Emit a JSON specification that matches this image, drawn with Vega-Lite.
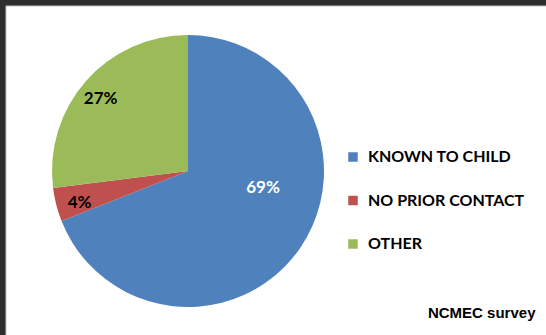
{
  "$schema": "https://vega.github.io/schema/vega-lite/v6.json",
  "width": 540,
  "height": 329,
  "autosize": "none",
  "padding": {"left": 6, "top": 6, "right": 0, "bottom": 0},
  "background": "#2e2e2e",
  "config": {
    "view": {"stroke": null},
    "legend": {
      "labelFont": "Lato", "labelFontSize": 16, "labelFontWeight": "bold", "labelColor": "black",
      "symbolType": "square", "symbolSize": 90, "symbolStrokeWidth": 0,
      "rowPadding": 27.5, "labelOffset": 7
    }
  },
  "title": {
    "text": "NCMEC survey",
    "orient": "bottom",
    "anchor": "end",
    "offset": -32,
    "dx": -13,
    "font": "Liberation Sans",
    "fontSize": 15,
    "fontWeight": "bold",
    "color": "black"
  },
  "data": {
    "values": [
      {"category": "KNOWN TO CHILD", "value": 0.69},
      {"category": "NO PRIOR CONTACT", "value": 0.04},
      {"category": "OTHER", "value": 0.27}
    ]
  },
  "layer": [
    {
      "data": {"values": [{"panel": "background"}]},
      "mark": {"type": "rect", "x": 0, "y": 0, "x2": {"expr": "width + 2"}, "y2": {"expr": "height + 2"}, "fill": "white", "stroke": "#c4c4c4", "strokeWidth": 1},
      "encoding": {}
    },
    {
      "mark": {"type": "arc", "outerRadius": 136, "x": 182, "y": 165},
      "encoding": {
        "theta": {"field": "value", "type": "quantitative", "stack": true},
        "order": {"field": "category", "sort": "ascending"},
        "color": {
          "field": "category", "type": "nominal",
          "scale": {"domain": ["KNOWN TO CHILD", "NO PRIOR CONTACT", "OTHER"], "range": ["#4f81bd", "#c0504d", "#9bbb59"]},
          "legend": {"title": null, "orient": "none", "legendX": 339, "legendY": 143}
        }
      }
    },
    {
      "mark": {"type": "text", "radius": 113, "thetaOffset": -0.035, "x": 182, "y": 165, "font": "Lato", "fontSize": 17, "fontWeight": "bold", "fill": "black"},
      "encoding": {
        "theta": {"field": "value", "type": "quantitative", "stack": true},
        "order": {"field": "category", "sort": "ascending"},
        "detail": {"field": "category"},
        "text": {"field": "value", "type": "quantitative", "format": ".0%"},
        "opacity": {"condition": {"test": "datum.category === 'KNOWN TO CHILD'", "value": 0}, "value": 1}
      }
    },
    {
      "mark": {"type": "text", "radius": 77, "thetaOffset": -0.373, "x": 182, "y": 165, "font": "Lato", "fontSize": 17, "fontWeight": "bold", "fill": "white"},
      "encoding": {
        "theta": {"field": "value", "type": "quantitative", "stack": true},
        "order": {"field": "category", "sort": "ascending"},
        "detail": {"field": "category"},
        "text": {"field": "value", "type": "quantitative", "format": ".0%"},
        "opacity": {"condition": {"test": "datum.category === 'KNOWN TO CHILD'", "value": 1}, "value": 0}
      }
    }
  ]
}
